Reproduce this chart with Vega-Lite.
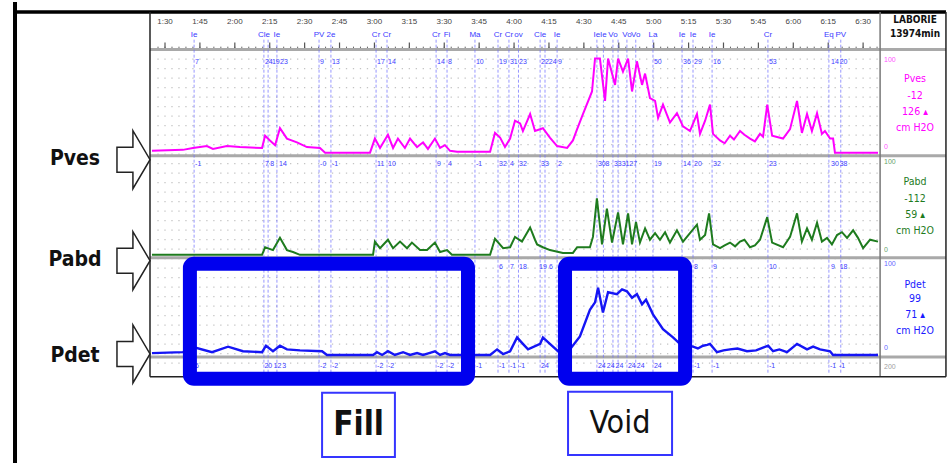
{
"$schema": "https://vega.github.io/schema/vega-lite/v6.json",
"width": 951, "height": 465,
"autosize": {"type": "fit", "contains": "padding"},
"padding": 0,
"background": "white",
"config": {"view": {"stroke": null}, "text": {"font": "Liberation Sans", "baseline": "middle"}},
"resolve": {"scale": {"y": "independent"}},
"datasets": {
"gridT": [{"t":87},{"t":90},{"t":93},{"t":96},{"t":99},{"t":102},{"t":105},{"t":108},{"t":111},{"t":114},{"t":117},{"t":120},{"t":123},{"t":126},{"t":129},{"t":132},{"t":135},{"t":138},{"t":141},{"t":144},{"t":147},{"t":150},{"t":153},{"t":156},{"t":159},{"t":162},{"t":165},{"t":168},{"t":171},{"t":174},{"t":177},{"t":180},{"t":183},{"t":186},{"t":189},{"t":192},{"t":195},{"t":198},{"t":201},{"t":204},{"t":207},{"t":210},{"t":213},{"t":216},{"t":219},{"t":222},{"t":225},{"t":228},{"t":231},{"t":234},{"t":237},{"t":240},{"t":243},{"t":246},{"t":249},{"t":252},{"t":255},{"t":258},{"t":261},{"t":264},{"t":267},{"t":270},{"t":273},{"t":276},{"t":279},{"t":282},{"t":285},{"t":288},{"t":291},{"t":294},{"t":297},{"t":300},{"t":303},{"t":306},{"t":309},{"t":312},{"t":315},{"t":318},{"t":321},{"t":324},{"t":327},{"t":330},{"t":333},{"t":336},{"t":339},{"t":342},{"t":345},{"t":348},{"t":351},{"t":354},{"t":357},{"t":360},{"t":363},{"t":366},{"t":369},{"t":372},{"t":375},{"t":378},{"t":381},{"t":384},{"t":387},{"t":390},{"t":393},{"t":396}],
"timeLabels": [{"t":90,"label":"1:30"},{"t":105,"label":"1:45"},{"t":120,"label":"2:00"},{"t":135,"label":"2:15"},{"t":150,"label":"2:30"},{"t":165,"label":"2:45"},{"t":180,"label":"3:00"},{"t":195,"label":"3:15"},{"t":210,"label":"3:30"},{"t":225,"label":"3:45"},{"t":240,"label":"4:00"},{"t":255,"label":"4:15"},{"t":270,"label":"4:30"},{"t":285,"label":"4:45"},{"t":300,"label":"5:00"},{"t":315,"label":"5:15"},{"t":330,"label":"5:30"},{"t":345,"label":"5:45"},{"t":360,"label":"6:00"},{"t":375,"label":"6:15"},{"t":390,"label":"6:30"}],
"events": [{"t":102.5,"label":"Ie"},{"t":132.5,"label":"Cle"},{"t":134.3,"label":""},{"t":138.1,"label":"Ie"},{"t":156.2,"label":"PV"},{"t":161.3,"label":"2e"},{"t":180.7,"label":"Cr"},{"t":185.4,"label":"Cr"},{"t":206.5,"label":"Cr"},{"t":211.2,"label":"Fi"},{"t":223.2,"label":"Ma"},{"t":233.1,"label":"Cr"},{"t":237.8,"label":"Cr"},{"t":241.9,"label":"ov"},{"t":251.2,"label":"Cle"},{"t":253.3,"label":""},{"t":258.5,"label":"Ie"},{"t":275.6,"label":"Ie"},{"t":278.4,"label":"Ie"},{"t":282.5,"label":"Vo"},{"t":284.7,"label":""},{"t":288.5,"label":"Vo"},{"t":292.3,"label":"Vo"},{"t":299.7,"label":"La"},{"t":312.2,"label":"Ie"},{"t":316.9,"label":"Ie"},{"t":325.1,"label":"Ie"},{"t":349.1,"label":"Cr"},{"t":375.3,"label":"Eq"},{"t":380.4,"label":"PV"}],
"numsVes": [{"t":102.5,"n":"7"},{"t":132.5,"n":"24"},{"t":135.5,"n":"19"},{"t":139.0,"n":"23"},{"t":156.2,"n":"9"},{"t":161.3,"n":"13"},{"t":180.7,"n":"17"},{"t":185.4,"n":"14"},{"t":206.5,"n":"14"},{"t":211.2,"n":"8"},{"t":223.2,"n":"10"},{"t":233.1,"n":"19"},{"t":237.8,"n":"31"},{"t":241.7,"n":"23"},{"t":251.2,"n":"22"},{"t":254.5,"n":"24"},{"t":258.5,"n":"9"},{"t":299.7,"n":"50"},{"t":312.2,"n":"36"},{"t":316.9,"n":"29"},{"t":325.1,"n":"16"},{"t":349.1,"n":"53"},{"t":375.8,"n":"14"},{"t":379.5,"n":"20"}],
"numsAbd": [{"t":102.5,"n":"-1"},{"t":132.5,"n":"7"},{"t":134.8,"n":"8"},{"t":138.6,"n":"14"},{"t":156.2,"n":"-0"},{"t":161.3,"n":"-1"},{"t":180.7,"n":"11"},{"t":185.4,"n":"10"},{"t":206.5,"n":"9"},{"t":211.2,"n":"4"},{"t":223.2,"n":"-1"},{"t":233.1,"n":"32"},{"t":237.8,"n":"4"},{"t":241.7,"n":"32"},{"t":251.2,"n":"33"},{"t":258.5,"n":"2"},{"t":275.6,"n":"30"},{"t":278.9,"n":"8"},{"t":282.5,"n":"33"},{"t":285.8,"n":"31"},{"t":289.1,"n":"27"},{"t":299.7,"n":"19"},{"t":312.2,"n":"14"},{"t":316.9,"n":"20"},{"t":325.1,"n":"32"},{"t":349.1,"n":"23"},{"t":375.8,"n":"30"},{"t":379.5,"n":"38"}],
"numsDetTop": [{"t":233.1,"n":"6"},{"t":237.8,"n":"7"},{"t":241.7,"n":"18"},{"t":250.3,"n":"19"},{"t":254.6,"n":"6"},{"t":316.9,"n":"8"},{"t":325.1,"n":"9"},{"t":349.1,"n":"10"},{"t":375.8,"n":"9"},{"t":379.5,"n":"18"}],
"numsDetBot": [{"t":102.5,"n":"6"},{"t":132.3,"n":"20"},{"t":136.2,"n":"12"},{"t":140.0,"n":"3"},{"t":156.2,"n":"-2"},{"t":161.3,"n":"-2"},{"t":180.7,"n":"-2"},{"t":185.4,"n":"-2"},{"t":206.5,"n":"-2"},{"t":211.2,"n":"-2"},{"t":223.2,"n":"-1"},{"t":233.1,"n":"-1"},{"t":237.8,"n":"-1"},{"t":241.7,"n":"-1"},{"t":251.2,"n":"24"},{"t":275.6,"n":"24"},{"t":279.4,"n":"24"},{"t":283.2,"n":"24"},{"t":288.5,"n":"24"},{"t":292.3,"n":"24"},{"t":299.7,"n":"24"},{"t":316.9,"n":"-1"},{"t":325.1,"n":"-1"},{"t":349.1,"n":"-1"},{"t":375.3,"n":"-1"},{"t":379.2,"n":"-1"}],
"seps": [{"level":109.5},{"level":-3.2},{"level":-111.6},{"level":-216.8}],
"frameV": [{"t":83.55},{"t":425.6}],
"pves": [{"t":84.4,"v":2},{"t":97.7,"v":3},{"t":102.0,"v":5},{"t":108.0,"v":7},{"t":110.6,"v":4},{"t":116.6,"v":7},{"t":122.2,"v":6},{"t":131.7,"v":5},{"t":133.0,"v":18},{"t":135.1,"v":13},{"t":137.3,"v":8},{"t":139.4,"v":26},{"t":142.4,"v":15},{"t":146.7,"v":11},{"t":151.0,"v":6},{"t":156.6,"v":5},{"t":158.8,"v":0},{"t":178.1,"v":0},{"t":180.2,"v":15},{"t":182.4,"v":5},{"t":185.8,"v":19},{"t":188.0,"v":5},{"t":190.1,"v":15},{"t":193.1,"v":5},{"t":195.3,"v":15},{"t":198.3,"v":6},{"t":200.9,"v":11},{"t":203.0,"v":4},{"t":206.0,"v":15},{"t":208.2,"v":5},{"t":210.3,"v":8},{"t":212.5,"v":2},{"t":215.5,"v":1},{"t":229.7,"v":1},{"t":231.8,"v":21},{"t":234.0,"v":16},{"t":236.1,"v":6},{"t":238.3,"v":15},{"t":240.4,"v":34},{"t":242.6,"v":31},{"t":243.8,"v":23},{"t":246.9,"v":41},{"t":249.0,"v":23},{"t":252.4,"v":26},{"t":255.4,"v":16},{"t":258.5,"v":7},{"t":262.8,"v":5},{"t":265.3,"v":13},{"t":267.1,"v":25},{"t":269.6,"v":41},{"t":273.5,"v":65},{"t":274.8,"v":100},{"t":276.9,"v":100},{"t":279.1,"v":55},{"t":280.4,"v":100},{"t":283.4,"v":72},{"t":284.7,"v":100},{"t":286.8,"v":86},{"t":289.0,"v":100},{"t":290.7,"v":65},{"t":292.8,"v":97},{"t":295.0,"v":72},{"t":296.3,"v":84},{"t":298.4,"v":58},{"t":300.6,"v":55},{"t":301.9,"v":37},{"t":304.0,"v":51},{"t":307.0,"v":32},{"t":310.0,"v":42},{"t":312.6,"v":28},{"t":315.6,"v":23},{"t":318.6,"v":41},{"t":319.9,"v":20},{"t":322.1,"v":34},{"t":324.2,"v":51},{"t":325.5,"v":20},{"t":328.5,"v":13},{"t":330.5,"v":10},{"t":332.8,"v":18},{"t":334.5,"v":14},{"t":337.1,"v":23},{"t":339.0,"v":19},{"t":341.4,"v":15},{"t":343.5,"v":12},{"t":345.7,"v":20},{"t":347.0,"v":17},{"t":348.8,"v":51},{"t":350.9,"v":18},{"t":355.6,"v":15},{"t":358.6,"v":25},{"t":361.6,"v":55},{"t":363.7,"v":21},{"t":365.9,"v":41},{"t":368.0,"v":23},{"t":370.2,"v":42},{"t":372.3,"v":20},{"t":373.6,"v":23},{"t":375.8,"v":15},{"t":377.1,"v":15},{"t":377.9,"v":0},{"t":396.4,"v":0}],
"pabd": [{"t":84.4,"v":0},{"t":131.7,"v":0},{"t":133.0,"v":8},{"t":136.4,"v":5},{"t":139.4,"v":18},{"t":142.4,"v":5},{"t":145.0,"v":3},{"t":148.0,"v":0},{"t":179.4,"v":0},{"t":180.2,"v":14},{"t":182.4,"v":7},{"t":185.8,"v":16},{"t":188.0,"v":7},{"t":191.0,"v":14},{"t":194.0,"v":7},{"t":196.1,"v":13},{"t":199.6,"v":5},{"t":202.6,"v":5},{"t":206.0,"v":13},{"t":208.2,"v":3},{"t":211.2,"v":5},{"t":213.3,"v":0},{"t":229.7,"v":0},{"t":231.8,"v":17},{"t":235.3,"v":7},{"t":238.3,"v":8},{"t":240.4,"v":19},{"t":243.4,"v":14},{"t":246.9,"v":29},{"t":249.0,"v":16},{"t":249.9,"v":11},{"t":252.4,"v":8},{"t":255.4,"v":5},{"t":261.0,"v":2},{"t":265.3,"v":2},{"t":267.1,"v":8},{"t":272.6,"v":8},{"t":273.9,"v":19},{"t":275.6,"v":60},{"t":277.8,"v":11},{"t":279.9,"v":49},{"t":282.1,"v":13},{"t":284.7,"v":45},{"t":286.8,"v":11},{"t":289.0,"v":44},{"t":290.7,"v":11},{"t":292.4,"v":35},{"t":294.1,"v":13},{"t":296.3,"v":28},{"t":298.4,"v":16},{"t":300.6,"v":23},{"t":302.7,"v":16},{"t":304.9,"v":24},{"t":307.0,"v":13},{"t":310.0,"v":26},{"t":312.6,"v":14},{"t":315.6,"v":23},{"t":318.6,"v":32},{"t":319.9,"v":16},{"t":322.1,"v":21},{"t":323.8,"v":44},{"t":325.5,"v":11},{"t":328.5,"v":7},{"t":330.5,"v":10},{"t":332.8,"v":13},{"t":335.0,"v":9},{"t":337.1,"v":14},{"t":339.0,"v":16},{"t":341.4,"v":8},{"t":343.5,"v":10},{"t":345.7,"v":16},{"t":348.8,"v":40},{"t":350.9,"v":13},{"t":355.6,"v":8},{"t":358.6,"v":19},{"t":361.6,"v":44},{"t":363.7,"v":14},{"t":365.9,"v":28},{"t":368.0,"v":16},{"t":370.2,"v":34},{"t":372.3,"v":14},{"t":374.5,"v":18},{"t":376.6,"v":11},{"t":378.8,"v":21},{"t":380.9,"v":24},{"t":383.1,"v":18},{"t":385.7,"v":26},{"t":387.8,"v":18},{"t":390.0,"v":7},{"t":393.0,"v":16},{"t":396.4,"v":14}],
"pdet": [{"t":84.4,"v":2},{"t":97.7,"v":3},{"t":102.9,"v":8},{"t":110.2,"v":3},{"t":117.1,"v":9},{"t":123.5,"v":4},{"t":131.7,"v":3},{"t":133.4,"v":10},{"t":136.4,"v":4},{"t":139.4,"v":10},{"t":142.4,"v":6},{"t":148.0,"v":5},{"t":157.5,"v":4},{"t":159.6,"v":0},{"t":179.4,"v":0},{"t":181.1,"v":3},{"t":183.3,"v":0},{"t":185.8,"v":4},{"t":188.8,"v":0},{"t":192.3,"v":3},{"t":195.3,"v":0},{"t":198.3,"v":2},{"t":200.9,"v":0},{"t":203.5,"v":2},{"t":206.0,"v":4},{"t":208.2,"v":0},{"t":210.3,"v":2},{"t":212.5,"v":0},{"t":229.7,"v":0},{"t":232.7,"v":6},{"t":235.3,"v":1},{"t":238.3,"v":4},{"t":241.3,"v":19},{"t":243.8,"v":12},{"t":246.0,"v":6},{"t":251.2,"v":12},{"t":252.4,"v":19},{"t":255.4,"v":12},{"t":258.9,"v":4},{"t":264.0,"v":6},{"t":268.3,"v":20},{"t":272.6,"v":49},{"t":274.8,"v":57},{"t":276.1,"v":73},{"t":278.2,"v":46},{"t":280.4,"v":68},{"t":284.2,"v":66},{"t":286.4,"v":71},{"t":288.5,"v":69},{"t":290.7,"v":62},{"t":292.8,"v":66},{"t":295.0,"v":55},{"t":296.7,"v":60},{"t":299.7,"v":44},{"t":304.0,"v":28},{"t":308.3,"v":19},{"t":311.3,"v":12},{"t":316.9,"v":9},{"t":319.0,"v":7},{"t":321.2,"v":10},{"t":323.0,"v":11},{"t":324.2,"v":12},{"t":327.2,"v":3},{"t":330.0,"v":5},{"t":332.8,"v":6},{"t":336.0,"v":7},{"t":340.1,"v":4},{"t":344.0,"v":5},{"t":347.0,"v":8},{"t":349.2,"v":10},{"t":351.3,"v":4},{"t":354.0,"v":6},{"t":357.3,"v":3},{"t":361.6,"v":12},{"t":365.9,"v":6},{"t":368.5,"v":9},{"t":371.5,"v":6},{"t":375.8,"v":4},{"t":377.1,"v":0},{"t":396.4,"v":0}],
"rightText": [{"text":"Pves","level":77.9,"ch":"Pves"},{"text":"-12","level":60,"ch":"Pves"},{"text":"126 ▴","level":43.2,"ch":"Pves"},{"text":"cm H2O","level":26.3,"ch":"Pves"},{"text":"Pabd","level":-31.6,"ch":"Pabd"},{"text":"-112","level":-49.5,"ch":"Pabd"},{"text":"59 ▴","level":-66.3,"ch":"Pabd"},{"text":"cm H2O","level":-83.2,"ch":"Pabd"},{"text":"Pdet","level":-140,"ch":"Pdet"},{"text":"99","level":-155.8,"ch":"Pdet"},{"text":"71 ▴","level":-172.6,"ch":"Pdet"},{"text":"cm H2O","level":-189.5,"ch":"Pdet"}],
"rightScale": [{"text":"100","level":98.9,"ch":"Pves"},{"text":"0","level":6.3,"ch":"Pves"},{"text":"100","level":-9.5,"ch":"Pabd"},{"text":"0","level":-103.2,"ch":"Pabd"},{"text":"100","level":-117.9,"ch":"Pdet"},{"text":"0","level":-207.4,"ch":"Pdet"},{"text":"200","level":-227.4,"ch":"none"}],
"header": [{"text":"LABORIE","level":141},{"text":"13974min","level":126.3}],
"channels": [{"name":"Pves","labelLevel":-6.3,"arrowLevel":-7.4},{"name":"Pabd","labelLevel":-113.7,"arrowLevel":-114.7},{"name":"Pdet","labelLevel":-215.8,"arrowLevel":-213.7}],
"phases": [{"phase":"Fill","start":100.7,"end":220.2,"lo":-25.8,"hi":98.9},{"phase":"Void","start":261.9,"end":313.5,"lo":-25.8,"hi":98.9}],
"phaseLabels": [{"phase":"Fill","start":157.5,"end":188.8,"mid":173.2,"lo":-110.8,"hi":-40.9,"c":-76.3},{"phase":"Void","start":263.2,"end":307.9,"mid":285.5,"lo":-108.6,"hi":-39.8,"c":-74.2}]
},
"layer": [
{"data":{"name":"gridT"},"mark":{"type":"rule","color":"#c4c4c4","strokeWidth":1.3,"strokeDash":[1.3,8.2]},
 "encoding":{"x":{"field":"t","type":"quantitative","scale":{"domain":[19.09,427.77],"nice":false,"zero":false},"axis":null},
  "y":{"datum":100,"type":"quantitative","scale":{"domain":[-329.47,160],"nice":false,"zero":false},"axis":null},"y2":{"datum":-229}}},
{"data":{"name":"gridT"},"mark":{"type":"rule","color":"#666666","strokeWidth":1},
 "encoding":{"x":{"field":"t","type":"quantitative","scale":{"domain":[19.09,427.77],"nice":false,"zero":false},"axis":null},
  "y":{"datum":112.6,"type":"quantitative","scale":{"domain":[-329.47,160],"nice":false,"zero":false},"axis":null},"y2":{"datum":109.5}}},
{"data":{"name":"timeLabels"},"mark":{"type":"rule","color":"#555555","strokeWidth":1.2},
 "encoding":{"x":{"field":"t","type":"quantitative","scale":{"domain":[19.09,427.77],"nice":false,"zero":false},"axis":null},
  "y":{"datum":117,"type":"quantitative","scale":{"domain":[-329.47,160],"nice":false,"zero":false},"axis":null},"y2":{"datum":109.5}}},
{"data":{"name":"seps"},"mark":{"type":"rule","color":"#a9a9a9","strokeWidth":3},
 "encoding":{"x":{"datum":83.55,"type":"quantitative","scale":{"domain":[19.09,427.77],"nice":false,"zero":false},"axis":null},"x2":{"datum":425.6},
  "y":{"field":"level","type":"quantitative","scale":{"domain":[-329.47,160],"nice":false,"zero":false},"axis":null}}},
{"data":{"name":"events"},"mark":{"type":"rule","color":"#6e6eff","strokeWidth":0.9,"strokeDash":[3,2],"opacity":0.8},
 "encoding":{"x":{"field":"t","type":"quantitative","scale":{"domain":[19.09,427.77],"nice":false,"zero":false},"axis":null},
  "y":{"datum":120,"type":"quantitative","scale":{"domain":[-329.47,160],"nice":false,"zero":false},"axis":null},"y2":{"datum":-234.7}}},
{"data":{"name":"events"},"mark":{"type":"text","color":"#3a3aff","fontSize":8},
 "encoding":{"x":{"field":"t","type":"quantitative","scale":{"domain":[19.09,427.77],"nice":false,"zero":false},"axis":null},
  "y":{"datum":125.3,"type":"quantitative","scale":{"domain":[-329.47,160],"nice":false,"zero":false},"axis":null},"text":{"field":"label"}}},
{"data":{"name":"timeLabels"},"mark":{"type":"text","color":"#444444","fontSize":8},
 "encoding":{"x":{"field":"t","type":"quantitative","scale":{"domain":[19.09,427.77],"nice":false,"zero":false},"axis":null},
  "y":{"datum":139,"type":"quantitative","scale":{"domain":[-329.47,160],"nice":false,"zero":false},"axis":null},"text":{"field":"label"}}},
{"data":{"name":"numsVes"},"mark":{"type":"text","color":"#4040ff","fontSize":7,"align":"left","dx":1},
 "encoding":{"x":{"field":"t","type":"quantitative","scale":{"domain":[19.09,427.77],"nice":false,"zero":false},"axis":null},
  "y":{"datum":96.8,"type":"quantitative","scale":{"domain":[-329.47,160],"nice":false,"zero":false},"axis":null},"text":{"field":"n"}}},
{"data":{"name":"numsAbd"},"mark":{"type":"text","color":"#4040ff","fontSize":7,"align":"left","dx":1},
 "encoding":{"x":{"field":"t","type":"quantitative","scale":{"domain":[19.09,427.77],"nice":false,"zero":false},"axis":null},
  "y":{"datum":-11.6,"type":"quantitative","scale":{"domain":[-329.47,160],"nice":false,"zero":false},"axis":null},"text":{"field":"n"}}},
{"data":{"name":"numsDetTop"},"mark":{"type":"text","color":"#4040ff","fontSize":7,"align":"left","dx":1},
 "encoding":{"x":{"field":"t","type":"quantitative","scale":{"domain":[19.09,427.77],"nice":false,"zero":false},"axis":null},
  "y":{"datum":-121.1,"type":"quantitative","scale":{"domain":[-329.47,160],"nice":false,"zero":false},"axis":null},"text":{"field":"n"}}},
{"data":{"name":"numsDetBot"},"mark":{"type":"text","color":"#4040ff","fontSize":7,"align":"left","dx":1},
 "encoding":{"x":{"field":"t","type":"quantitative","scale":{"domain":[19.09,427.77],"nice":false,"zero":false},"axis":null},
  "y":{"datum":-226.3,"type":"quantitative","scale":{"domain":[-329.47,160],"nice":false,"zero":false},"axis":null},"text":{"field":"n"}}},
{"data":{"name":"pves"},"mark":{"type":"line","color":"#ff00ff","strokeWidth":2},
 "encoding":{"x":{"field":"t","type":"quantitative","scale":{"domain":[19.09,427.77],"nice":false,"zero":false},"axis":null},
  "y":{"field":"v","type":"quantitative","scale":{"domain":[-329.47,160],"nice":false,"zero":false},"axis":null}}},
{"data":{"name":"pabd"},"mark":{"type":"line","color":"#1e7b1e","strokeWidth":2},
 "encoding":{"x":{"field":"t","type":"quantitative","scale":{"domain":[19.09,427.77],"nice":false,"zero":false},"axis":null},
  "y":{"field":"v","type":"quantitative","scale":{"domain":[-221.05,268.42],"nice":false,"zero":false},"axis":null}}},
{"data":{"name":"pdet"},"mark":{"type":"line","color":"#1515f5","strokeWidth":2.4},
 "encoding":{"x":{"field":"t","type":"quantitative","scale":{"domain":[19.09,427.77],"nice":false,"zero":false},"axis":null},
  "y":{"field":"v","type":"quantitative","scale":{"domain":[-117.2,382.8],"nice":false,"zero":false},"axis":null}}},
{"data":{"values":[{"t":25.54}]},"mark":{"type":"rule","color":"#000000","strokeWidth":4},
 "encoding":{"x":{"field":"t","type":"quantitative","scale":{"domain":[19.09,427.77],"nice":false,"zero":false},"axis":null},
  "y":{"datum":160,"type":"quantitative","scale":{"domain":[-329.47,160],"nice":false,"zero":false},"axis":null},"y2":{"datum":-329.47}}},
{"data":{"values":[{"t":25.54,"t2":425.6}]},"mark":{"type":"rule","color":"#000000","strokeWidth":3.5},
 "encoding":{"x":{"field":"t","type":"quantitative","scale":{"domain":[19.09,427.77],"nice":false,"zero":false},"axis":null},"x2":{"field":"t2"},
  "y":{"datum":149.5,"type":"quantitative","scale":{"domain":[-329.47,160],"nice":false,"zero":false},"axis":null}}},
{"data":{"name":"frameV"},"mark":{"type":"rule","color":"#222222","strokeWidth":1.5},
 "encoding":{"x":{"field":"t","type":"quantitative","scale":{"domain":[19.09,427.77],"nice":false,"zero":false},"axis":null},
  "y":{"datum":149.5,"type":"quantitative","scale":{"domain":[-329.47,160],"nice":false,"zero":false},"axis":null},"y2":{"datum":-237.9}}},
{"data":{"values":[{"t":397.3}]},"mark":{"type":"rule","color":"#777777","strokeWidth":1.5},
 "encoding":{"x":{"field":"t","type":"quantitative","scale":{"domain":[19.09,427.77],"nice":false,"zero":false},"axis":null},
  "y":{"datum":149.5,"type":"quantitative","scale":{"domain":[-329.47,160],"nice":false,"zero":false},"axis":null},"y2":{"datum":-237.9}}},
{"data":{"values":[{"t":83.55,"t2":425.6}]},"mark":{"type":"rule","color":"#222222","strokeWidth":1.5},
 "encoding":{"x":{"field":"t","type":"quantitative","scale":{"domain":[19.09,427.77],"nice":false,"zero":false},"axis":null},"x2":{"field":"t2"},
  "y":{"datum":-237.9,"type":"quantitative","scale":{"domain":[-329.47,160],"nice":false,"zero":false},"axis":null}}},
{"data":{"name":"rightText"},"mark":{"type":"text","fontSize":10.5,"font":"DejaVu Sans Condensed, Liberation Sans"},
 "encoding":{"x":{"datum":412.3,"type":"quantitative","scale":{"domain":[19.09,427.77],"nice":false,"zero":false},"axis":null},
  "y":{"field":"level","type":"quantitative","scale":{"domain":[-329.47,160],"nice":false,"zero":false},"axis":null},
  "text":{"field":"text"},
  "color":{"field":"ch","type":"nominal","scale":{"domain":["Pves","Pabd","Pdet","none"],"range":["#ff00ff","#1e7b1e","#1a1aff","#777777"]},"legend":null}}},
{"data":{"name":"rightScale"},"mark":{"type":"text","fontSize":7,"align":"left","opacity":0.7},
 "encoding":{"x":{"datum":399.0,"type":"quantitative","scale":{"domain":[19.09,427.77],"nice":false,"zero":false},"axis":null},
  "y":{"field":"level","type":"quantitative","scale":{"domain":[-329.47,160],"nice":false,"zero":false},"axis":null},
  "text":{"field":"text"},
  "color":{"field":"ch","type":"nominal","scale":{"domain":["Pves","Pabd","Pdet","none"],"range":["#ff00ff","#1e7b1e","#1a1aff","#777777"]},"legend":null}}},
{"data":{"name":"header"},"mark":{"type":"text","fontSize":10,"fontWeight":"bold","font":"DejaVu Sans Condensed, Liberation Sans","color":"#111111"},
 "encoding":{"x":{"datum":412.3,"type":"quantitative","scale":{"domain":[19.09,427.77],"nice":false,"zero":false},"axis":null},
  "y":{"field":"level","type":"quantitative","scale":{"domain":[-329.47,160],"nice":false,"zero":false},"axis":null},"text":{"field":"text"}}},
{"data":{"name":"channels"},"mark":{"type":"text","fontSize":21,"fontWeight":"bold","font":"DejaVu Sans Condensed, Liberation Sans","color":"#111111"},
 "encoding":{"x":{"datum":51.32,"type":"quantitative","scale":{"domain":[19.09,427.77],"nice":false,"zero":false},"axis":null},
  "y":{"field":"labelLevel","type":"quantitative","scale":{"domain":[-329.47,160],"nice":false,"zero":false},"axis":null},"text":{"field":"name"}}},
{"data":{"name":"channels"},"mark":{"type":"point","shape":"M -0.57 -0.43 L -0.02 -0.43 L -0.02 -1 L 0.57 0 L -0.02 1 L -0.02 0.43 L -0.57 0.43 Z","size":3364,"filled":true,"fill":"white","stroke":"#222222","strokeWidth":1.5,"opacity":1},
 "encoding":{"x":{"datum":76.46,"type":"quantitative","scale":{"domain":[19.09,427.77],"nice":false,"zero":false},"axis":null},
  "y":{"field":"arrowLevel","type":"quantitative","scale":{"domain":[-329.47,160],"nice":false,"zero":false},"axis":null}}},
{"data":{"name":"phases"},"mark":{"type":"rect","fillOpacity":0,"fill":"white","stroke":"#0000ee","strokeWidth":14,"cornerRadius":4},
 "encoding":{"x":{"field":"start","type":"quantitative","scale":{"domain":[19.09,427.77],"nice":false,"zero":false},"axis":null},"x2":{"field":"end"},
  "y":{"field":"hi","type":"quantitative","scale":{"domain":[-117.2,382.8],"nice":false,"zero":false},"axis":null},"y2":{"field":"lo"}}},
{"data":{"name":"phaseLabels"},"mark":{"type":"rect","fill":"white","stroke":"#3535ff","strokeWidth":2},
 "encoding":{"x":{"field":"start","type":"quantitative","scale":{"domain":[19.09,427.77],"nice":false,"zero":false},"axis":null},"x2":{"field":"end"},
  "y":{"field":"hi","type":"quantitative","scale":{"domain":[-117.2,382.8],"nice":false,"zero":false},"axis":null},"y2":{"field":"lo"}}},
{"data":{"name":"phaseLabels"},"transform":[{"filter":"datum.phase == 'Fill'"}],"mark":{"type":"text","fontSize":33,"fontWeight":"bold","font":"DejaVu Sans Condensed, Liberation Sans","color":"#111111"},
 "encoding":{"x":{"field":"mid","type":"quantitative","scale":{"domain":[19.09,427.77],"nice":false,"zero":false},"axis":null},
  "y":{"field":"c","type":"quantitative","scale":{"domain":[-117.2,382.8],"nice":false,"zero":false},"axis":null},"text":{"field":"phase"}}},
{"data":{"name":"phaseLabels"},"transform":[{"filter":"datum.phase == 'Void'"}],"mark":{"type":"text","fontSize":32,"font":"DejaVu Sans Condensed, Liberation Sans","color":"#111111"},
 "encoding":{"x":{"field":"mid","type":"quantitative","scale":{"domain":[19.09,427.77],"nice":false,"zero":false},"axis":null},
  "y":{"field":"c","type":"quantitative","scale":{"domain":[-117.2,382.8],"nice":false,"zero":false},"axis":null},"text":{"field":"phase"}}}
]
}
